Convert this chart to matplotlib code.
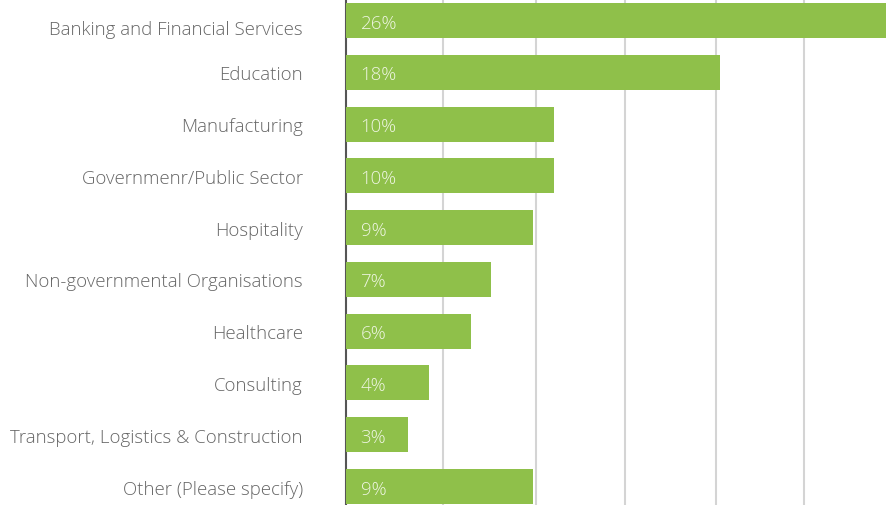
import numpy as np
import matplotlib.pyplot as plt
import matplotlib.transforms as mtransforms

sectors = ["Banking and Financial Services", "Education", "Manufacturing",
           "Governmenr/Public Sector", "Hospitality", "Non-governmental Organisations",
           "Healthcare", "Consulting", "Transport, Logistics & Construction",
           "Other (Please specify)"]
share = [26, 18, 10, 10, 9, 7, 6, 4, 3, 9]
grid_at = [4.65, 9.15, 13.45, 17.8, 22.05]

plt.rcParams['font.family'] = ['Open Sans', 'DejaVu Sans']

fig = plt.figure(figsize=(8.86, 5.06), dpi=100)
ax = fig.add_axes([346/886, 0, 540/886, 1])

y = np.arange(len(sectors))
ax.barh(y, share, height=0.676, color='#8fc04a', zorder=3)

for i, v in enumerate(share):
    ax.text(0.7, i + 0.04, f"{v}%", va='center', ha='left', color='#eef5e2',
            fontsize=13.4, fontweight='light', zorder=4)

ax.set_xlim(0, 26)
ax.set_ylim(9.357, -0.415)
ax.set_yticks(y)
ax.set_yticklabels(sectors, fontsize=13.4, color='#666666', fontweight='light')
ax.tick_params(axis='y', length=0, pad=31)
# first label sits a little lower than its bar
lbl = ax.get_yticklabels()[0]
lbl.set_transform(lbl.get_transform() + mtransforms.ScaledTranslation(0, -0.07, fig.dpi_scale_trans))

ax.set_xticks(grid_at)
ax.tick_params(axis='x', length=0, labelbottom=False)
ax.grid(axis='x', color='#d4d4d4', linewidth=1.5, zorder=0)

for s in ['top', 'right', 'bottom']:
    ax.spines[s].set_visible(False)
ax.spines['left'].set_color('#555555')
ax.spines['left'].set_linewidth(1.5)

fig.savefig('out.png', dpi=100)
